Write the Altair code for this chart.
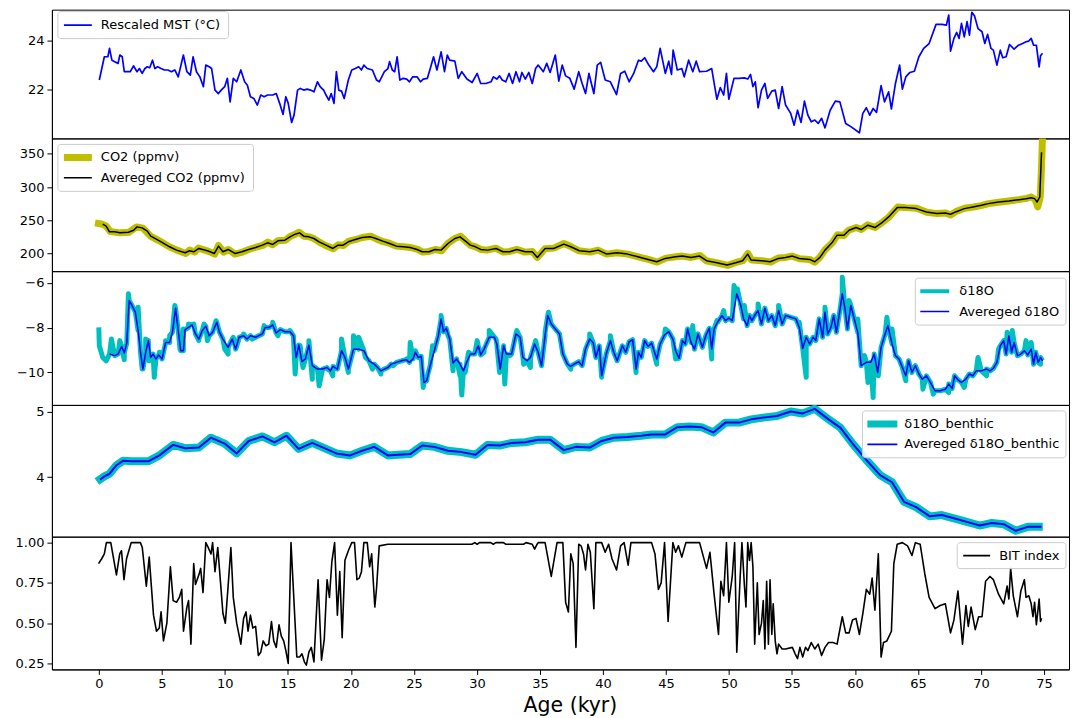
import altair as alt
import pandas as pd

FONT = "DejaVu Sans"
BLUE = "#0000ff"
CYAN = "#00bfbf"
OLIVE = "#bfbf00"
BLACK = "#000000"

# ---------------- data (age in kyr, value) ----------------
mst = [(0.04,22.39),(0.44,23.34),(0.72,23.34),(0.85,23.68),(1.04,23.20),(1.26,23.14),(1.53,23.07),(1.67,23.41),(1.86,23.34),(2.02,22.73),(2.49,22.73),(2.76,22.97),(3.03,22.73),(3.22,22.86),(3.44,22.66),(3.66,22.86),(3.85,22.93),(4.04,22.89),(4.26,23.20),(4.45,22.86),(4.67,22.93),(4.94,22.86),(5.21,22.80),(5.49,22.80),(5.76,22.73),(6.03,22.80),(6.30,22.52),(6.71,23.41),(6.99,22.73),(7.26,22.59),(7.48,23.34),(7.75,22.73),(8.02,22.52),(8.30,22.12),(8.49,23.0),(8.76,22.93),(8.95,22.86),(9.22,21.98),(9.49,21.84),(9.71,21.98),(9.99,22.12),(10.20,22.46),(10.42,21.50),(10.67,22.46),(10.94,22.32),(11.27,22.80),(11.57,22.32),(11.79,22.18),(12.03,21.71),(12.30,21.64),(12.58,21.37),(12.85,21.78),(13.12,21.71),(13.39,21.78),(13.80,21.78),(14.08,21.84),(14.35,21.44),(14.62,20.99),(14.84,21.71),(15.03,21.44),(15.30,20.66),(15.49,20.96),(15.77,21.98),(15.98,22.05),(16.26,21.98),(16.53,22.02),(16.80,21.98),(17.07,21.91),(17.35,22.32),(17.56,22.12),(17.84,21.98),(18.03,21.78),(18.25,21.57),(18.44,21.84),(18.66,21.44),(18.85,22.73),(19.04,21.98),(19.26,21.94),(19.47,21.64),(19.80,22.39),(20.07,22.80),(20.35,22.86),(20.62,22.93),(20.84,22.80),(21.03,23.0),(21.30,22.86),(21.71,22.80),(22.04,22.39),(22.25,22.32),(22.66,22.73),(22.94,22.86),(23.07,23.14),(23.29,22.80),(23.48,22.73),(23.67,23.34),(23.89,22.39),(24.16,22.46),(24.43,22.43),(24.65,22.32),(24.90,22.52),(25.25,22.52),(25.53,22.32),(25.74,22.43),(26.07,22.46),(26.34,22.93),(26.56,23.34),(26.83,22.80),(27.16,23.54),(27.43,22.73),(27.65,23.41),(27.84,23.20),(28.25,23.16),(28.52,22.46),(28.80,22.73),(29.21,22.43),(29.62,22.29),(30.02,22.66),(30.30,22.25),(30.71,22.25),(31.12,22.32),(31.31,22.52),(31.58,22.43),(31.80,22.56),(32.01,22.39),(32.29,22.32),(32.56,22.66),(32.83,22.25),(33.10,22.73),(33.38,22.32),(33.57,22.70),(33.84,22.43),(34.12,22.70),(34.39,22.25),(34.66,22.86),
       (34.86,23.0),(35.27,22.73),(35.54,23.07),(35.81,22.70),(36.22,23.41),(36.50,22.35),(36.77,23.0),(37.04,22.56),(37.37,22.46),(37.72,22.02),(38.08,22.73),(38.35,22.25),(38.62,21.84),(38.89,22.66),(39.28,21.84),(39.55,23.0),(39.82,23.11),(40.18,22.39),(40.59,22.32),(41.08,21.80),(41.40,22.66),(41.73,22.75),(42.08,22.32),(42.44,22.66),(42.82,23.20),(43.04,23.16),(43.31,23.30),(43.64,23.0),(44.01,22.73),(44.27,22.93),(44.54,23.68),(44.95,22.66),(45.22,23.16),(45.44,22.62),(45.57,23.61),(45.90,22.80),(46.26,22.86),(46.45,22.52),(46.80,23.20),(47.13,22.73),(47.40,23.16),(47.67,22.73),(48.22,22.75),(48.63,22.86),(49.04,21.61),(49.31,22.08),(49.58,21.78),(49.80,22.66),(49.99,21.61),(50.40,22.46),(50.81,22.46),(51.22,22.48),(51.49,22.43),(51.71,22.62),(51.90,22.12),(52.09,22.32),(52.31,21.26),(52.58,21.98),(52.85,22.25),(53.07,21.64),(53.40,21.94),(53.67,21.98),(53.94,21.23),(54.22,22.12),(54.49,21.37),(54.90,21.03),(55.17,20.55),(55.44,21.16),(55.72,20.66),(55.99,21.53),(56.26,20.96),(56.53,20.69),(56.81,20.76),(57.08,20.62),(57.35,20.83),(57.62,20.44),(58.03,21.16),(58.44,21.53),(58.80,21.50),(59.26,20.62),(59.67,20.49),(60.35,20.24),(60.62,21.03),(60.90,21.26),(61.17,20.96),(61.44,21.23),(61.71,21.07),(62.07,22.16),(62.34,21.50),(62.67,21.91),(62.89,21.21),(63.21,22.25),(63.54,23.0),(63.76,22.02),(64.03,22.52),(64.36,22.70),(64.71,22.75),(65.07,23.34),(65.45,23.68),(65.88,23.88),(66.43,24.66),(66.89,24.66),(67.25,24.63),(67.44,25.04),(67.58,23.57),(67.85,24.09),(68.07,24.33),(68.26,24.09),(68.45,24.70),(68.67,24.15),(68.89,24.77),(69.08,24.22),(69.27,25.15),(69.48,25.01),(69.76,24.49),(70.08,24.36),(70.30,23.88),(70.52,24.25),(70.79,23.68),(70.98,23.61),(71.26,23.0),(71.53,23.61),(71.72,23.30),(71.99,23.34),(72.26,23.84),(72.62,23.65),(72.97,23.81),(73.30,23.88),(73.57,23.95),(73.79,23.98),(73.98,24.09),(74.17,23.81),(74.39,23.81),(74.61,22.93),(74.72,23.38),(74.88,23.48)]

co2_raw = [(-0.3,246),(0.3,244),(0.6,241),(0.9,233),(1.7,231),(2.4,232),(3.0,240),(3.5,238),(4.1,226),(4.8,219),(5.6,210),(6.2,205),(6.9,200),(7.2,205),(7.6,202),(7.9,208),(8.6,204),(9.2,199),(9.5,212),(9.9,202),(10.3,206),(10.8,199),(11.4,202),(11.9,206),(12.4,209),(13.0,212),(13.4,217),(13.8,213),(14.2,219),(14.8,220),(15.2,226),(15.6,229),(15.9,232),(16.3,226),(16.7,225),(17.1,222),(17.5,217),(18.0,212),(18.6,207),(19.0,213),(19.4,212),(19.8,218),(20.4,221),(20.9,224),(21.6,226),(22.0,222),(22.5,218),(23.1,215),(23.6,211),(24.2,210),(24.7,209),(25.3,206),(25.7,202),(26.2,203),(26.7,206),(27.2,204),(27.7,215),(28.3,223),(28.7,226),(29.1,219),(29.5,212),(29.9,210),(30.3,206),(30.8,205),(31.5,208),(32.1,202),(32.6,203),(33.2,206),(33.8,202),(34.4,203),(34.8,194),(35.4,207),(36.1,208),(36.9,215),(37.5,210),(38.1,204),(39.0,202),(39.6,205),(40.3,199),(41.1,201),(42.0,199),(42.8,195),(43.6,191),(44.3,187),(45.0,193),(45.8,195),(46.3,196),(47.0,194),(47.7,197),(48.2,189),(49.0,186),(49.9,182),(50.5,186),(51.1,189),(51.5,200),(51.8,190),(52.6,189),(53.3,187),(53.9,193),(54.5,194),(55.0,196),(55.6,192),(56.4,191),(56.8,187),(57.2,194),(57.6,205),(58.2,216),(58.6,228),(59.1,227),(59.5,235),(60.1,239),(60.5,236),(61.0,243),(61.6,239),(62.1,246),(62.7,255),(63.4,270),(64.0,269),(64.9,268),(65.7,262),(66.5,260),(67.2,261),(67.6,258),(68.0,263),(68.7,268),(69.4,270),(70.0,272),(70.6,275),(71.4,277),(72.2,279),(73.0,281),(73.6,283),(74.0,285),(74.3,281),(74.5,270),(74.7,285),(74.8,330),(74.9,390)]

co2_avg = [(0.31,244),(0.58,241),(0.85,232.5),(1.26,232.5),(1.67,231),(2.35,232),(2.76,235),(3.03,240),(3.44,238.5),(3.85,233.5),(4.12,226),(4.81,219),(5.62,210),(6.17,205),(6.85,201),(7.20,204),(7.53,202.5),(7.94,207.5),(8.62,204),(9.17,200),(9.50,211),(9.85,202.5),(10.26,206),(10.80,200),(11.35,202.5),(11.89,206),(12.44,209),(12.98,212.5),(13.39,216),(13.80,213.5),(14.21,219),(14.76,220),(15.17,225),(15.58,229),(15.93,231),(16.26,226),(16.67,225),(17.07,222.5),(17.48,217.5),(18.03,212.5),(18.57,207.5),(18.98,212.5),(19.39,212.5),(19.80,217.5),(20.35,221),(20.89,224),(21.57,225),(21.98,222.5),(22.53,218.5),(23.07,215),(23.62,211),(24.16,210),(24.71,209),(25.25,206),(25.66,202.5),(26.21,202.5),(26.67,206),(27.16,205),(27.71,215),(28.25,222.5),(28.66,225),(29.07,219),(29.48,212.5),(29.89,210),(30.30,206),(30.84,205),(31.52,207.5),(32.07,202.5),(32.61,202.5),(33.16,206),(33.84,202.5),(34.39,202.5),(34.80,194),(35.41,207.5),(36.09,207.5),(36.90,214),(37.45,210),(38.13,204),(38.95,202.5),(39.63,205),(40.31,199),(41.13,201),(41.95,199),(42.77,195),(43.58,191),(44.27,187.5),(44.95,192.5),(45.76,195),(46.31,196),(46.99,194),(47.67,196),(48.22,189),(49.04,186),(49.85,182.5),(50.54,186),(51.08,189),(51.49,199),(51.76,190),(52.58,189),(53.26,187.5),(53.94,192.5),(54.49,194),(55.03,196),(55.58,192.5),(56.40,191),(56.81,187.5),(57.22,194),(57.62,205),(58.17,216),(58.58,227.5),(59.12,227.5),(59.53,235),(60.08,239),(60.49,236),(61.03,242.5),(61.58,239),(62.12,246),(62.67,255),(63.35,269),(64.03,269),(64.85,267.5),(65.67,262.5),(66.49,260),(67.17,261),(67.58,259),(67.99,262.5),(68.67,267.5),(69.35,270),(70.03,272.5),(70.58,275),(71.39,277.5),(72.21,279),(73.03,281),(73.57,282.5),(73.98,284),(74.25,282.5),(74.45,277.5),(74.66,285),(74.80,352.5)]

d18o_avg = [(0.85,-9.18),(1.26,-9.25),(1.53,-9.18),(1.81,-8.84),(2.02,-9.13),(2.22,-8.69),(2.41,-6.79),(2.63,-7.01),(2.90,-7.31),(3.12,-8.13),(3.31,-9.10),(3.50,-9.85),(3.72,-9.10),(3.93,-8.58),(4.12,-9.33),(4.31,-9.18),(4.53,-9.40),(4.75,-9.22),(5.02,-9.40),(5.30,-8.66),(5.62,-8.66),(5.84,-8.21),(6.09,-7.13),(6.30,-8.13),(6.50,-9.03),(6.71,-9.03),(6.85,-8.09),(7.12,-7.99),(7.40,-7.88),(7.67,-8.28),(7.94,-8.51),(8.21,-8.13),(8.49,-7.94),(8.76,-8.36),(9.03,-8.21),(9.36,-7.76),(9.58,-8.21),(9.85,-8.51),(10.26,-8.88),(10.58,-8.51),(10.86,-8.96),(11.13,-8.43),(11.49,-8.36),(11.76,-8.51),(12.03,-8.36),(12.44,-8.43),(12.98,-8.28),(13.20,-7.99),(13.53,-7.99),(13.80,-7.88),(14.07,-8.24),(14.40,-8.09),(14.76,-8.18),(15.17,-8.18),(15.44,-8.36),(15.66,-9.33),(15.87,-8.78),(16.12,-9.52),(16.39,-9.40),(16.67,-8.78),(16.94,-9.70),(17.35,-9.85),(17.76,-9.85),(18.11,-9.78),(18.38,-9.93),(18.58,-9.73),(18.93,-9.85),(19.26,-9.03),(19.53,-9.33),(19.80,-9.85),(20.21,-8.96),(20.62,-8.96),(21.03,-9.03),(21.44,-9.48),(21.85,-9.63),(22.12,-9.78),(22.39,-9.93),(22.66,-9.85),(22.94,-9.78),(23.21,-9.63),(23.62,-9.55),(24.03,-9.48),(24.38,-9.43),(24.65,-9.55),(24.93,-9.40),(25.12,-9.10),(25.34,-9.33),(25.58,-9.28),(25.80,-10.45),(26.02,-10.37),(26.29,-9.70),(26.62,-9.03),(26.94,-8.36),(27.16,-7.61),(27.35,-8.18),(27.57,-8.03),(27.84,-8.51),(28.11,-9.58),(28.39,-9.40),(28.66,-9.63),(28.93,-9.93),(29.21,-9.52),(29.48,-9.18),(29.83,-9.18),(30.11,-8.81),(30.30,-9.22),(30.57,-8.96),(30.98,-8.43),(31.39,-8.43),(31.58,-8.73),(31.85,-9.85),(32.12,-8.81),(32.34,-9.18),(32.75,-9.18),(33.10,-8.28),(33.43,-8.43),(33.65,-9.33),(33.98,-9.48),(34.25,-9.33),(34.58,-8.73),
            (34.86,-9.10),(35.13,-9.70),(35.41,-8.36),(35.62,-7.46),(35.90,-7.84),(36.22,-8.06),(36.55,-8.28),(36.82,-9.18),(37.18,-9.63),(37.45,-9.73),(37.72,-9.63),(38.08,-9.52),(38.35,-9.70),(38.62,-8.96),(38.95,-8.51),(39.22,-8.66),(39.44,-9.33),(39.71,-8.81),(39.90,-10.15),(40.26,-9.18),(40.59,-8.58),(40.86,-9.10),(41.13,-9.48),(41.54,-8.81),(41.81,-9.10),(42.08,-8.63),(42.36,-8.54),(42.63,-9.85),(42.82,-9.10),(43.04,-9.33),(43.31,-8.58),(43.58,-8.84),(43.86,-8.69),(44.27,-9.40),(44.54,-8.73),(44.89,-8.33),(45.22,-8.18),(45.55,-8.51),(45.77,-9.03),(46.04,-9.37),(46.31,-8.58),(46.53,-8.73),(46.72,-8.06),(46.99,-8.66),(47.26,-8.96),(47.54,-8.28),(47.89,-8.88),(48.16,-8.36),(48.44,-8.03),(48.63,-8.96),(48.82,-8.06),(49.09,-7.76),(49.45,-7.46),(49.72,-7.69),(49.99,-7.58),(50.26,-7.69),(50.62,-6.49),(50.94,-7.01),(51.16,-7.61),(51.44,-7.91),(51.63,-7.46),(51.82,-7.69),(52.04,-7.46),(52.31,-7.24),(52.58,-7.84),(52.85,-7.13),(53.13,-7.69),(53.40,-7.46),(53.67,-7.91),(53.94,-7.24),(54.22,-7.84),(54.49,-7.46),(54.90,-7.54),(55.31,-7.61),(55.58,-7.99),(55.85,-8.93),(56.13,-8.43),(56.40,-8.73),(56.67,-8.43),(56.89,-8.58),(57.16,-7.61),(57.43,-8.43),(57.62,-7.31),(57.84,-8.28),(58.09,-7.99),(58.31,-7.46),(58.52,-8.21),(58.80,-7.24),(58.99,-6.49),(59.21,-7.16),(59.40,-8.06),(59.67,-7.01),(59.94,-7.61),(60.22,-8.21),(60.49,-9.70),(60.90,-9.55),(61.25,-9.55),(61.52,-9.18),(61.80,-10.0),(62.07,-8.88),(62.39,-8.28),(62.61,-7.91),(62.94,-8.73),(63.21,-9.25),(63.49,-9.40),(63.76,-9.78),(64.03,-10.15),(64.25,-9.48),(64.52,-10.0),(64.79,-9.70),(65.07,-10.07),(65.34,-10.30),(65.67,-10.15),(65.99,-10.45),(66.35,-10.82),(66.76,-10.82),(67.17,-10.75),(67.44,-10.52),(67.71,-10.72),(67.90,-10.15),(68.17,-10.33),(68.45,-10.45),(68.80,-10.30),(69.08,-10.07),(69.35,-10.15),(69.62,-9.93),(70.03,-9.93),(70.44,-9.85),(70.71,-9.93),(70.98,-9.82),(71.26,-9.55),(71.53,-8.81),(71.80,-8.58),(71.99,-9.18),(72.21,-8.36),(72.43,-9.10),(72.62,-8.66),(72.89,-9.25),(73.16,-9.18),(73.44,-9.03),(73.71,-9.22),(73.98,-8.96),(74.17,-9.63),(74.34,-9.10),(74.53,-9.55),(74.72,-9.33),(74.88,-9.48)]

d18o_spikes = [(0.0,-7.99),(0.04,-8.81),(0.31,-9.33),(0.58,-9.48),(1.0,-8.51),(1.67,-8.58),(2.02,-9.43),(2.35,-6.49),(2.84,-7.24),(3.12,-7.09),(3.44,-9.85),(3.72,-8.51),(3.99,-9.48),(4.40,-10.22),(4.81,-9.10),(5.30,-8.58),(5.62,-8.36),(6.03,-7.01),(6.44,-8.96),(6.71,-8.06),(7.12,-7.84),(7.53,-7.84),(7.94,-8.58),(8.35,-7.84),(8.62,-8.58),(9.30,-7.69),(9.99,-8.96),(10.26,-9.18),(10.67,-8.43),(11.08,-8.58),(11.49,-8.28),(12.17,-8.51),(13.12,-7.91),(13.80,-7.76),(14.21,-8.36),(15.17,-8.13),(15.58,-10.07),(15.98,-8.81),(16.20,-9.78),(16.67,-8.58),(16.94,-10.30),(17.48,-10.60),(18.16,-9.85),(18.57,-10.15),(19.26,-8.51),(19.80,-10.0),(20.21,-8.36),(20.62,-8.43),(21.16,-9.33),(21.71,-9.85),(22.39,-10.07),(23.35,-9.70),(24.43,-9.40),(24.71,-8.66),(25.12,-9.03),(25.74,-10.67),(26.07,-10.15),(26.48,-8.81),(27.16,-7.46),(27.71,-8.36),(28.11,-9.93),(28.66,-10.15),(28.80,-11.01),(29.07,-10.0),(29.34,-9.10),(30.02,-8.58),(30.57,-9.10),(30.98,-8.13),(31.52,-8.51),(31.80,-10.0),(32.21,-10.52),(32.61,-9.25),(33.16,-8.13),(33.71,-9.63),(34.25,-9.78),(34.66,-8.58),
               (35.41,-8.21),(35.68,-7.31),(37.45,-9.85),(38.95,-8.28),(39.90,-10.22),(40.59,-8.36),(42.63,-10.0),(44.27,-9.63),(44.95,-8.06),(45.77,-9.40),(47.13,-7.91),(48.63,-9.40),(49.04,-7.69),(49.58,-7.24),(50.40,-6.12),(50.67,-6.27),(51.22,-7.01),(52.31,-6.94),(53.94,-7.01),(55.58,-7.76),(56.13,-10.22),(57.62,-7.09),(58.99,-5.75),(59.53,-6.79),(60.22,-7.61),(60.76,-9.25),(61.03,-10.45),(61.44,-11.12),(61.85,-10.15),(62.53,-7.54),(62.94,-8.06),(64.03,-10.37),(64.58,-9.85),(65.39,-10.75),(66.21,-10.97),(67.44,-10.90),(68.67,-10.67),(69.76,-9.33),(70.44,-10.15),(71.39,-8.96),(72.07,-8.21),(72.48,-8.13),(73.57,-8.58),(73.98,-8.66),(74.72,-9.63)]

benthic_raw = [(-0.15,3.93),(0.44,4.01),(0.85,4.05),(1.40,4.18),(1.94,4.25),(2.62,4.24),(3.44,4.24),(3.93,4.24),(4.81,4.33),(5.90,4.49),(6.85,4.44),(7.94,4.45),(8.89,4.60),(9.99,4.51),(10.94,4.36),(11.89,4.55),(12.98,4.62),(13.94,4.53),(14.89,4.63),(15.85,4.43),(16.94,4.52),(18.03,4.43),(18.85,4.36),(19.94,4.33),(20.89,4.40),(21.85,4.46),(22.94,4.33),(23.75,4.34),(24.71,4.35),(25.66,4.48),(26.62,4.46),(27.71,4.40),(28.80,4.38),(29.89,4.34),(30.84,4.49),(31.80,4.48),(32.75,4.52),(33.84,4.53),(34.86,4.57),(35.81,4.57),(36.90,4.41),(37.86,4.46),(38.95,4.45),(39.90,4.55),(40.86,4.60),(41.95,4.61),(43.04,4.63),(43.86,4.65),(44.95,4.65),(45.90,4.76),(46.86,4.77),(47.81,4.76),(48.76,4.68),(49.72,4.83),(50.81,4.83),(51.76,4.88),(52.85,4.91),(53.81,4.93),(54.90,5.0),(55.85,4.97),(56.81,5.04),(57.90,4.88),(58.85,4.75),(59.81,4.51),(60.90,4.26),(61.99,4.03),(62.94,3.92),(63.90,3.62),(64.85,3.54),(65.94,3.40),(66.89,3.42),(67.85,3.37),(68.80,3.32),(69.90,3.26),(70.85,3.30),(71.80,3.28),(72.75,3.18),(73.71,3.24),(74.90,3.24)]

benthic_avg = [(0.10,3.96),(0.44,4.01),(0.85,4.05),(1.40,4.18),(1.94,4.25),(2.62,4.24),(3.44,4.24),(3.93,4.24),(4.81,4.33),(5.90,4.49),(6.85,4.44),(7.94,4.45),(8.89,4.60),(9.99,4.51),(10.94,4.36),(11.89,4.55),(12.98,4.62),(13.94,4.53),(14.89,4.63),(15.85,4.43),(16.94,4.52),(18.03,4.43),(18.85,4.36),(19.94,4.33),(20.89,4.40),(21.85,4.46),(22.94,4.33),(23.75,4.34),(24.71,4.35),(25.66,4.48),(26.62,4.46),(27.71,4.40),(28.80,4.38),(29.89,4.34),(30.84,4.49),(31.80,4.48),(32.75,4.52),(33.84,4.53),(34.86,4.57),(35.81,4.57),(36.90,4.41),(37.86,4.46),(38.95,4.45),(39.90,4.55),(40.86,4.60),(41.95,4.61),(43.04,4.63),(43.86,4.65),(44.95,4.65),(45.90,4.76),(46.86,4.77),(47.81,4.76),(48.76,4.68),(49.72,4.83),(50.81,4.83),(51.76,4.88),(52.85,4.91),(53.81,4.93),(54.90,5.0),(55.85,4.97),(56.81,5.04),(57.90,4.88),(58.85,4.75),(59.81,4.51),(60.90,4.26),(61.99,4.03),(62.94,3.92),(63.90,3.62),(64.85,3.54),(65.94,3.40),(66.89,3.42),(67.85,3.37),(68.80,3.32),(69.90,3.26),(70.85,3.30),(71.80,3.28),(72.75,3.18),(73.71,3.24),(74.80,3.24)]

bit = [(-0.02,0.87),(0.23,0.90),(0.44,0.93),(0.60,1.0),(0.95,1.0),(1.40,0.80),(1.66,0.93),(1.80,0.95),(2.00,0.77),(2.20,0.90),(2.57,1.0),(3.30,1.0),(3.45,0.97),(3.77,0.73),(4.00,0.91),(4.34,0.55),(4.58,0.45),(4.80,0.47),(4.94,0.57),(5.13,0.39),(5.40,0.50),(5.68,0.85),(5.90,0.64),(6.17,0.63),(6.39,0.66),(6.58,0.71),(6.72,0.45),(6.99,0.60),(7.12,0.64),(7.31,0.37),(7.53,0.87),(7.67,0.74),(7.94,0.80),(8.08,0.84),(8.27,0.69),(8.49,1.0),(8.68,0.97),(8.90,0.93),(9.03,1.0),(9.22,0.82),(9.44,0.97),(9.66,0.75),(9.85,0.56),(10.04,0.50),(10.26,0.73),(10.48,0.97),(10.67,0.66),(10.94,0.50),(11.27,0.37),(11.49,0.53),(11.68,0.57),(11.84,0.45),(12.03,0.55),(12.22,0.47),(12.44,0.48),(12.66,0.30),(12.85,0.32),(13.04,0.39),(13.26,0.36),(13.48,0.37),(13.70,0.51),(13.88,0.39),(14.08,0.35),(14.30,0.49),(14.48,0.42),(14.67,0.39),(14.84,0.33),(15.03,0.25),(15.25,1.0),(15.71,0.29),(15.93,0.29),(16.12,0.31),(16.31,0.26),(16.47,0.24),(16.67,0.32),(16.86,0.35),(17.07,0.26),(17.40,0.77),(17.67,0.27),(17.89,0.40),(18.11,0.77),(18.30,0.66),(18.49,0.88),(18.71,1.0),(18.93,0.55),(19.12,0.82),(19.31,0.41),(19.53,0.89),(19.80,0.95),(20.07,1.0),(20.29,1.0),(20.48,0.77),(20.67,0.78),(20.84,0.82),(21.03,1.0),(21.30,1.0),(21.49,0.85),(21.65,0.93),(21.90,0.60),(22.04,0.72),(22.25,0.98),(22.94,0.99),(29.60,0.99),(29.83,1.0),(30.02,0.99),(30.20,1.0),(31.10,1.0),(31.30,0.99),(31.50,1.0),(32.10,1.0),(32.30,0.99),(33.70,0.99),(33.90,1.0),(34.39,0.99),(34.58,0.96),(34.78,0.99),
       (34.86,1.0),(35.41,1.0),(35.90,0.79),(36.36,1.0),(36.82,1.0),(37.04,0.63),(37.26,0.57),(37.45,0.93),(37.64,0.87),(37.86,0.35),(38.08,0.99),(38.27,0.98),(38.46,0.93),(38.62,0.83),(38.81,0.99),(39.00,0.94),(39.28,0.59),(39.44,1.0),(39.90,1.0),(40.18,0.94),(40.45,0.99),(40.72,0.90),(41.08,0.83),(41.40,0.98),(41.68,1.0),(42.00,0.86),(42.22,1.0),(42.63,1.0),(43.04,1.0),(43.86,1.0),(44.13,0.93),(44.40,0.71),(44.62,0.75),(44.89,1.0),(45.17,0.51),(45.55,1.0),(45.77,0.94),(45.99,0.98),(46.26,0.91),(46.58,1.0),(47.67,1.0),(48.22,0.84),(48.49,0.94),(48.82,0.68),(49.17,0.43),(49.36,0.76),(49.58,0.67),(49.80,1.0),(49.99,0.63),(50.26,0.79),(50.45,1.0),(50.62,0.32),(50.89,0.79),(51.03,1.0),(51.22,0.74),(51.35,0.60),(51.49,1.0),(51.63,0.89),(51.76,1.0),(51.90,0.85),(52.04,0.37),(52.25,0.75),(52.39,0.43),(52.58,0.50),(52.72,0.64),(52.85,0.34),(52.99,0.76),(53.13,0.37),(53.26,0.77),(53.40,0.43),(53.51,0.62),(53.67,0.39),(53.81,0.31),(53.94,0.37),(54.22,0.34),(54.49,0.34),(55.03,0.35),(55.25,0.31),(55.44,0.28),(55.63,0.35),(55.85,0.29),(56.07,0.35),(56.26,0.33),(56.53,0.38),(56.81,0.34),(57.08,0.37),(57.35,0.30),(57.62,0.35),(57.90,0.38),(58.25,0.38),(58.58,0.37),(58.99,0.54),(59.26,0.44),(59.53,0.44),(59.80,0.52),(60.08,0.53),(60.35,0.43),(60.62,0.56),(60.90,0.71),(61.17,0.68),(61.36,0.78),(61.58,0.58),(61.85,0.93),(62.07,0.29),(62.26,0.38),(62.53,0.39),(62.89,0.45),(63.08,0.87),(63.35,0.99),(63.76,1.0),(64.17,0.98),(64.52,0.92),(64.79,1.0),(65.17,0.99),(65.53,0.81),(65.88,0.66),(66.35,0.59),(66.76,0.61),(67.17,0.62),(67.58,0.44),(67.85,0.52),(68.17,0.70),(68.53,0.37),(68.80,0.61),(68.99,0.48),(69.21,0.60),(69.54,0.46),(69.81,0.54),(70.08,0.54),(70.36,0.76),(70.71,0.79),(70.98,0.77),(71.39,0.68),(71.80,0.62),(72.07,0.73),(72.21,0.65),(72.35,0.84),(72.56,0.67),(72.89,0.54),(73.16,0.70),(73.44,0.77),(73.57,0.66),(73.79,0.67),(73.98,0.62),(74.12,0.54),(74.25,0.63),(74.39,0.49),(74.61,0.65),(74.72,0.51),(74.80,0.53)]

x_ticks = list(range(0, 80, 5))

# ---------------- layout ----------------
XDOM = [-3.72, 76.98]
W = 1019
ONE = pd.DataFrame({"k": [0]})
LFS = 13


def frame(pairs):
    return pd.DataFrame(pairs, columns=["age", "v"])


def xenc(axis=None):
    return alt.X("age:Q", scale=alt.Scale(domain=XDOM, nice=False, zero=False), axis=axis)


def yenc(dom, vals, fmt):
    return alt.Y("v:Q", scale=alt.Scale(domain=dom, nice=False, zero=False),
                 axis=alt.Axis(values=vals, format=fmt, title=None, grid=False))


def line(pairs, color, width, dom, vals, fmt, xaxis=None):
    return alt.Chart(frame(pairs)).mark_line(
        color=color, strokeWidth=width, clip=True, strokeJoin="round"
    ).encode(x=xenc(xaxis), y=yenc(dom, vals, fmt))


def lbox(x1, x2, y1, y2):
    return alt.Chart(ONE).mark_rect(
        fill="white", fillOpacity=0.85, stroke="#cccccc", strokeWidth=1,
        cornerRadius=3, clip=True
    ).encode(x=alt.value(x1), x2=alt.value(x2), y=alt.value(y1), y2=alt.value(y2))


def lline(x1, x2, y, color, width):
    return alt.Chart(ONE).mark_rule(color=color, strokeWidth=width, clip=True).encode(
        x=alt.value(x1), x2=alt.value(x2), y=alt.value(y))


def ltext(x, y, text):
    return alt.Chart(ONE).mark_text(
        text=text, align="left", baseline="middle", font=FONT, fontSize=LFS,
        color="black", clip=True
    ).encode(x=alt.value(x), y=alt.value(y))


# panel 1
D1 = [20.01, 25.26]
p1 = alt.layer(
    line(mst, BLUE, 1.7, D1, [22, 24], "d"),
    lbox(6, 177, 2, 29),
    lline(12, 40, 15.5, BLUE, 1.7),
    ltext(49, 15.5, "Rescaled MST (°C)"),
).properties(width=W, height=129)

# panel 2
D2 = [173.3, 373.2]
p2 = alt.layer(
    line(co2_raw, OLIVE, 7, D2, [200, 250, 300, 350], "d"),
    line(co2_avg, BLACK, 1.5, D2, [200, 250, 300, 350], "d"),
    lbox(6, 202, 6, 53),
    lline(12, 40, 19, OLIVE, 7),
    lline(12, 40, 39.5, BLACK, 1.5),
    ltext(49, 19, "CO2 (ppmv)"),
    ltext(49, 39.5, "Avereged CO2 (ppmv)"),
).properties(width=W, height=133)

# panel 3
D3 = [-11.45, -5.48]
d18o_raw = sorted(d18o_avg + d18o_spikes)
p3 = alt.layer(
    line(d18o_raw, CYAN, 5, D3, [-10, -8, -6], "d"),
    line(d18o_avg, BLUE, 1.5, D3, [-10, -8, -6], "d"),
    lbox(865, W - 3, 7, 54),
    lline(870, 899, 20, CYAN, 4),
    lline(870, 899, 40.5, BLUE, 1.5),
    ltext(909, 20, "δ18O"),
    ltext(909, 40.5, "Avereged δ18O"),
).properties(width=W, height=134)

# panel 4
D4 = [3.09, 5.10]
p4 = alt.layer(
    line(benthic_raw, CYAN, 8, D4, [4, 5], "d"),
    line(benthic_avg, BLUE, 2, D4, [4, 5], "d"),
    lbox(812, W - 3, 6, 53),
    lline(817, 847, 19, CYAN, 7),
    lline(817, 847, 39.5, BLUE, 1.8),
    ltext(854, 19, "δ18O_benthic"),
    ltext(854, 39.5, "Avereged δ18O_benthic"),
).properties(width=W, height=132)

# panel 5
D5 = [0.213, 1.037]
xaxis_bottom = alt.Axis(
    values=x_ticks, format="d", title="Age (kyr)", grid=False,
    titleFont=FONT, titleFontSize=20.5, titleFontWeight="normal", titleColor="black",
    titleX=519, titleY=42, titleBaseline="alphabetic", titleAlign="center",
)
p5 = alt.layer(
    line(bit, BLACK, 1.6, D5, [0.25, 0.5, 0.75, 1.0], ".2f", xaxis=xaxis_bottom),
    lbox(907, W - 3, 6, 32),
    lline(913, 940, 19, BLACK, 1.6),
    ltext(949, 19, "BIT index"),
).properties(width=W, height=133)

chart = alt.vconcat(p1, p2, p3, p4, p5, spacing=0, bounds="flush").properties(
    padding=0
).configure_view(
    stroke="black", strokeWidth=1
).configure_axis(
    domainColor="black", domainWidth=1, tickColor="black", tickWidth=1, tickSize=5,
    labelColor="black", labelFont=FONT, labelFontSize=13, labelPadding=3,
    labelFlush=False, labelOverlap=False, labelBound=False,
).configure_axisY(
    minExtent=43, maxExtent=43,
)

chart.save("out.html", embed_options={"renderer": "svg", "actions": False})
